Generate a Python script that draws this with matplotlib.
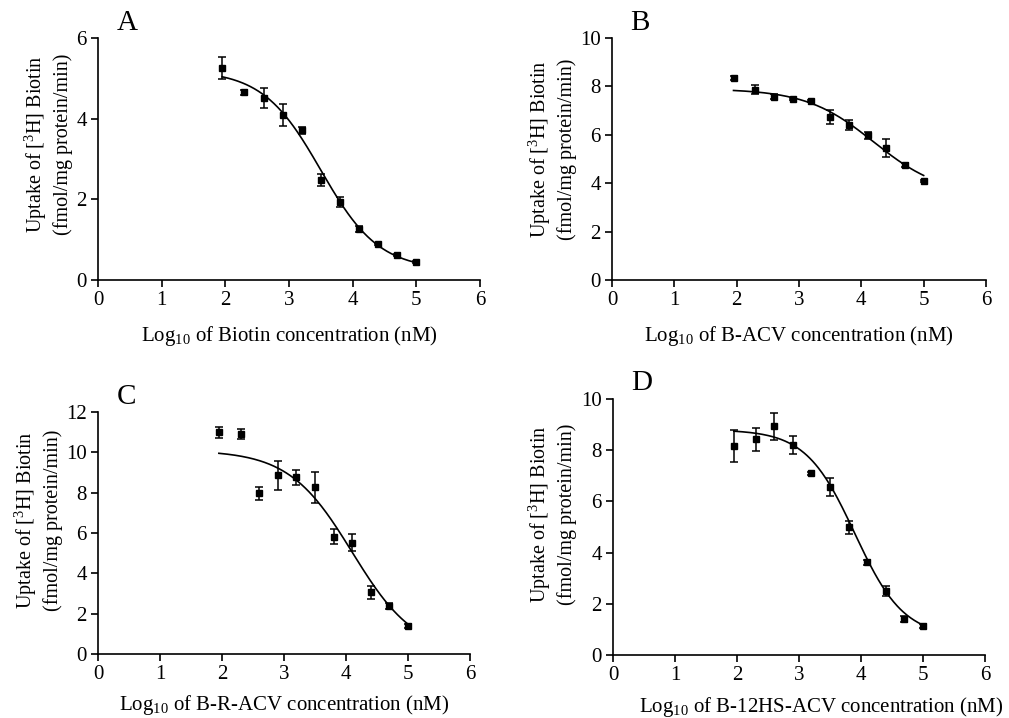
import numpy as np
import matplotlib
matplotlib.use('Agg')
import matplotlib.pyplot as plt

plt.rcParams['font.family'] = ['Liberation Serif', 'DejaVu Serif']
plt.rcParams['mathtext.fontset'] = 'custom'
plt.rcParams['mathtext.rm'] = 'Liberation Serif'
plt.rcParams['mathtext.it'] = 'Liberation Serif:italic'

# log10 concentrations (nM)
log_conc = [1.95, 2.3, 2.6, 2.9, 3.2, 3.5, 3.8, 4.1, 4.4, 4.7, 5.0]

# uptake values, with SEM bars
biotin = [5.26, 4.65, 4.52, 4.1, 3.71, 2.49, 1.94, 1.27, 0.89, 0.62, 0.45]
biotin_err = [0.28, 0.07, 0.25, 0.27, 0.08, 0.15, 0.12, 0.07, 0.03, 0.03, 0.03]

bacv = [8.35, 7.87, 7.58, 7.48, 7.40, 6.73, 6.40, 5.98, 5.45, 4.75, 4.11]
bacv_err = [0.08, 0.2, 0.12, 0.05, 0.05, 0.3, 0.2, 0.15, 0.38, 0.1, 0.04]

bracv = [10.99, 10.91, 7.97, 8.87, 8.76, 8.26, 5.82, 5.52, 3.06, 2.40, 1.39]
bracv_err = [0.27, 0.25, 0.31, 0.72, 0.36, 0.76, 0.37, 0.41, 0.31, 0.15, 0.08]

b12hs = [8.15, 8.43, 8.93, 8.21, 7.10, 6.58, 4.99, 3.63, 2.51, 1.42, 1.12]
b12hs_err = [0.62, 0.45, 0.52, 0.35, 0.05, 0.35, 0.25, 0.1, 0.2, 0.12, 0.08]

# sigmoidal fit: top, bottom, logIC50, hill slope
fit_biotin = [5.2, 0.25, 3.5, 0.95]
fit_bacv = [7.9, 3.5, 4.2, 0.8]
fit_bracv = [10.1, 0.0, 4.1, 0.85]
fit_b12hs = [8.8, 0.7, 3.9, 1.1]

# letter, data, errors, fit, compound, ymax, axes rect, ylabel pos, xlabel pos
panels = [
    ('A', biotin, biotin_err, fit_biotin, 'Biotin', 6,
     [0.0971, 0.6100, 0.3786, 0.3371], (-0.131, 0.56), (0.5, -0.18)),
    ('B', bacv, bacv_err, fit_bacv, 'B-ACV', 10,
     [0.6065, 0.6100, 0.3707, 0.3371], (-0.160, 0.54), (0.5, -0.18)),
    ('C', bracv, bracv_err, fit_bracv, 'B-R-ACV', 12,
     [0.0971, 0.0891, 0.3687, 0.3371], (-0.161, 0.553), (0.5, -0.16)),
    ('D', b12hs, b12hs_err, fit_b12hs, 'B-12HS-ACV', 10,
     [0.6075, 0.0877, 0.3687, 0.3566], (-0.164, 0.55), (0.56, -0.155)),
]


def dose_response(x, p):
    top, bottom, logic50, hill = p
    return bottom + (top - bottom) / (1 + 10 ** ((x - logic50) * hill))


fig = plt.figure(figsize=(10.09, 7.18), dpi=100)

for letter, vals, errs, fit, name, ymax, rect, ylab_pos, xlab_pos in panels:
    ax = fig.add_axes(rect)
    ax.errorbar(log_conc, vals, yerr=errs, fmt='s', color='black', ms=4,
                elinewidth=1.1, capsize=3, capthick=1.1)
    xs = np.linspace(log_conc[0], log_conc[-1], 200)
    ax.plot(xs, dose_response(xs, fit), color='black', lw=1.2)

    ax.set_xlim(0, 6)
    ax.set_ylim(0, ymax)
    ax.set_xticks(range(0, 7))
    ax.set_yticks(range(0, ymax + 1, 2))
    for s in ['top', 'right']:
        ax.spines[s].set_visible(False)
    for s in ['left', 'bottom']:
        ax.spines[s].set_linewidth(1.2)
    ax.tick_params(direction='out', length=5, width=1.2, labelsize=15, pad=3)

    ax.set_xlabel(r'Log$_{10}$ of ' + name + ' concentration (nM)', fontsize=15)
    ax.set_ylabel('Uptake of [$^{3}$H] Biotin\n(fmol/mg protein/min)',
                  fontsize=14.5, va='center', linespacing=1.25)
    ax.text(0.05, 1.01, letter, transform=ax.transAxes, fontsize=21,
            ha='left', va='bottom')

    ax.xaxis.set_label_coords(*xlab_pos)
    ax.yaxis.set_label_coords(*ylab_pos)

fig.savefig('out.png', dpi=100)
